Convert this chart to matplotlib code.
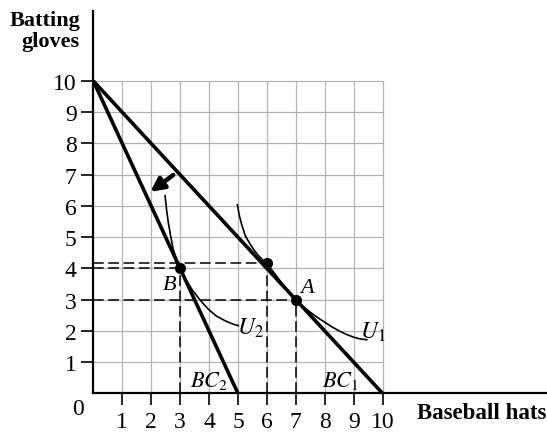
import matplotlib
matplotlib.use("Agg")
import matplotlib.pyplot as plt

plt.rcParams['font.family'] = ['Liberation Serif', 'DejaVu Serif']
plt.rcParams['mathtext.fontset'] = 'stix'

# budget lines (hats, gloves)
bc1_x = [0, 10]
bc1_y = [10, 0]
bc2_x = [0, 5]
bc2_y = [10, 0]

# indifference curves
u1_x = [4.98, 5.05, 5.13, 5.25, 5.42, 5.56, 5.70, 5.85, 6.00, 6.25, 6.50, 6.75,
        7.00, 7.25, 7.50, 7.75, 8.00, 8.25, 8.52, 8.75, 9.00, 9.20, 9.45]
u1_y = [6.04, 5.68, 5.40, 5.05, 4.78, 4.58, 4.42, 4.28, 4.15, 3.86, 3.55, 3.26,
        3.00, 2.78, 2.60, 2.43, 2.28, 2.13, 1.99, 1.89, 1.80, 1.75, 1.72]
u2_x = [2.48, 2.53, 2.59, 2.67, 2.76, 2.88, 3.00, 3.20, 3.40, 3.68, 3.97, 4.25,
        4.55, 4.80, 5.01]
u2_y = [6.33, 5.90, 5.48, 5.05, 4.62, 4.28, 4.00, 3.64, 3.34, 3.00, 2.70, 2.48,
        2.33, 2.23, 2.17]

# marked bundles
pts_x = [3, 6, 7]
pts_y = [4, 4.18, 3]

ticks = list(range(1, 11))

fig = plt.figure(figsize=(5.47, 4.39), dpi=100)
ax = fig.add_axes([0.1706, 0.1014, 0.8294, 0.8713])
ax.set_xlim(0, 15.68)
ax.set_ylim(0, 12.24)

# grid only inside 0..10
ax.vlines(ticks, 0, 10, color='#b4b4b4', lw=0.9, zorder=1)
ax.hlines(ticks, 0, 10, color='#b4b4b4', lw=0.9, zorder=1)

for x, y in zip(pts_x, pts_y):
    ax.plot([0, x], [y, y], color='black', lw=1.1, dashes=(7, 3), zorder=2)
    ax.plot([x, x], [0, y], color='black', lw=1.1, dashes=(7, 3), zorder=2)

ax.plot(bc1_x, bc1_y, color='black', lw=2.6, solid_capstyle='butt', zorder=3)
ax.plot(bc2_x, bc2_y, color='black', lw=2.6, solid_capstyle='butt', zorder=3)
ax.plot(u1_x, u1_y, color='black', lw=1.2, zorder=3)
ax.plot(u2_x, u2_y, color='black', lw=1.2, zorder=3)
ax.plot(pts_x, pts_y, 'o', color='black', ms=7, zorder=4)

ax.annotate('', xy=(1.97, 6.45), xytext=(2.76, 6.99),
            arrowprops=dict(arrowstyle='-|>', lw=3.2, color='black', mutation_scale=20,
                            shrinkA=0, shrinkB=0))

lab = dict(fontsize=16, style='italic')
ax.text(2.62, 3.5, 'B', ha='center', va='center', **lab)
ax.text(7.37, 3.4, 'A', ha='center', va='center', **lab)
ax.text(4.95, 2.12, '$U_2$', ha='left', va='center', fontsize=17)
ax.text(9.2, 2.0, '$U_1$', ha='left', va='center', fontsize=17)
ax.text(3.35, 0.43, '$BC_2$', ha='left', va='center', fontsize=16)
ax.text(7.89, 0.43, '$BC_1$', ha='left', va='center', fontsize=16)

ax.spines['top'].set_visible(False)
ax.spines['right'].set_visible(False)
ax.spines['left'].set_linewidth(1.6)
ax.spines['bottom'].set_linewidth(1.6)

ax.set_xticks(ticks)
ax.set_yticks(ticks)
ax.set_xticklabels([str(t) for t in ticks])
ax.set_yticklabels([str(t) for t in ticks])
ax.tick_params(direction='out', length=8.5, width=1.2, labelsize=17, pad=4)
ax.tick_params(axis='y', pad=3.5)

fig.text(78 / 547, 1 - 410 / 439, '0', ha='center', va='center', fontsize=17)
fig.text(80 / 547, 1 - 11 / 439, 'Batting\ngloves', ha='right', va='top',
         fontsize=16, fontweight='bold', linespacing=1.05)
fig.text(546 / 547, 1 - 419 / 439, 'Baseball hats', ha='right', va='baseline',
         fontsize=16.5, fontweight='bold')

fig.savefig('out.png', dpi=100)
